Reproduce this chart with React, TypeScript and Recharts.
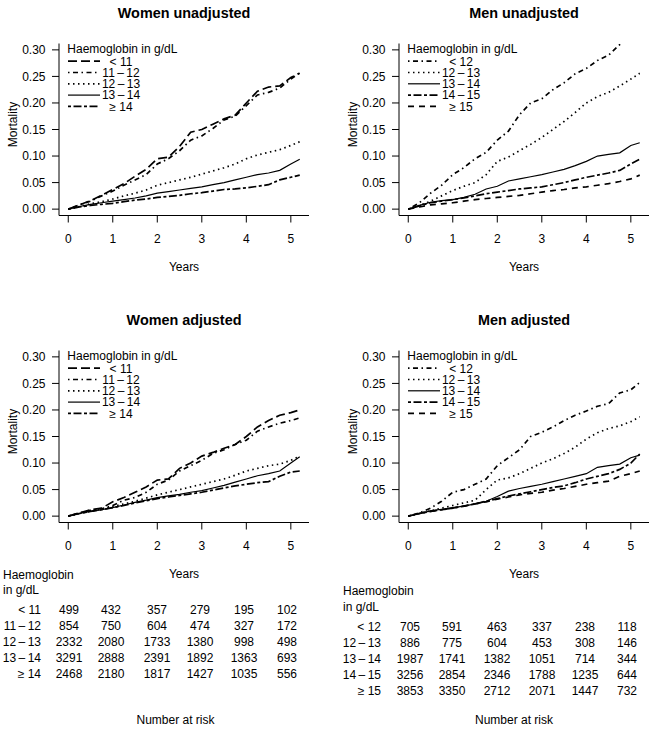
import React from 'react';
import { LineChart, Line, XAxis, YAxis } from 'recharts';

const FONT = '"Liberation Sans", Arial, Helvetica, sans-serif';

// time grid (years)
const years = [0, 0.25, 0.5, 0.75, 1, 1.25, 1.5, 1.75, 2, 2.25, 2.5, 2.75, 3, 3.25, 3.5, 3.75, 4, 4.25, 4.5, 4.75, 5, 5.2];
const xTicks = [0, 1, 2, 3, 4, 5];
const yTicks = [0, 0.05, 0.1, 0.15, 0.2, 0.25, 0.3];

const womenLabels = ['< 11', '11\u2009\u2013\u200912', '12\u2009\u2013\u200913', '13\u2009\u2013\u200914', '\u2265 14'];
const menLabels = ['< 12', '12\u2009\u2013\u200913', '13\u2009\u2013\u200914', '14\u2009\u2013\u200915', '\u2265 15'];

// Women unadjusted
const wuLt11 = [0, .008, .016, .026, .037, .048, .062, .075, .095, .098, .118, .145, .15, .16, .17, .177, .2, .222, .23, .232, .248, .256];
const wu11to12 = [0, .008, .015, .025, .034, .045, .055, .065, .085, .095, .11, .13, .138, .152, .168, .175, .195, .215, .22, .228, .245, .257];
const wu12to13 = [0, .005, .01, .014, .019, .025, .03, .036, .045, .05, .055, .06, .066, .072, .078, .085, .095, .102, .107, .112, .12, .127];
const wu13to14 = [0, .005, .009, .012, .015, .018, .021, .025, .03, .033, .036, .039, .042, .046, .05, .055, .06, .065, .068, .073, .085, .094];
const wuGe14 = [0, .004, .007, .009, .011, .014, .017, .019, .022, .024, .026, .029, .031, .034, .037, .038, .04, .043, .046, .055, .06, .064];

// Men unadjusted
const muLt12 = [0, .012, .03, .045, .065, .078, .095, .107, .13, .147, .178, .2, .208, .225, .238, .255, .265, .28, .29, .31, .33, .345];
const mu12to13 = [0, .007, .015, .025, .035, .043, .05, .065, .09, .098, .11, .122, .135, .15, .165, .182, .2, .212, .22, .232, .245, .256];
const mu13to14 = [0, .007, .013, .016, .018, .022, .028, .038, .043, .053, .057, .061, .065, .07, .075, .082, .09, .1, .103, .106, .12, .125];
const mu14to15 = [0, .006, .012, .015, .018, .021, .025, .029, .032, .035, .038, .04, .042, .046, .05, .055, .06, .064, .068, .073, .085, .094];
const muGe15 = [0, .004, .008, .01, .012, .015, .018, .02, .022, .024, .026, .029, .032, .035, .037, .04, .042, .045, .048, .052, .057, .064];

// Women adjusted
const waLt11 = [0, .006, .012, .015, .027, .035, .045, .055, .068, .07, .09, .1, .113, .12, .128, .135, .15, .168, .18, .19, .195, .2];
const wa11to12 = [0, .006, .011, .014, .02, .03, .035, .045, .06, .068, .085, .095, .105, .118, .125, .135, .143, .16, .168, .175, .18, .185];
const wa12to13 = [0, .005, .009, .013, .018, .023, .028, .034, .04, .045, .05, .055, .06, .065, .07, .077, .085, .09, .095, .098, .105, .113];
const wa13to14 = [0, .005, .009, .012, .016, .021, .026, .03, .035, .038, .041, .045, .048, .053, .058, .064, .07, .076, .08, .085, .1, .112];
const waGe14 = [0, .005, .009, .012, .016, .02, .025, .029, .033, .036, .039, .042, .045, .049, .053, .057, .06, .063, .065, .075, .083, .085];

// Men adjusted
const maLt12 = [0, .006, .015, .028, .045, .05, .06, .07, .095, .11, .125, .15, .158, .168, .18, .19, .198, .207, .212, .232, .238, .252];
const ma12to13 = [0, .005, .01, .015, .02, .025, .03, .05, .068, .072, .08, .09, .1, .108, .118, .13, .145, .157, .165, .17, .178, .187];
const ma13to14 = [0, .005, .01, .013, .016, .019, .023, .028, .037, .047, .052, .056, .06, .065, .07, .075, .08, .092, .095, .098, .11, .115];
const ma14to15 = [0, .005, .009, .012, .015, .019, .023, .028, .033, .038, .042, .046, .05, .054, .057, .063, .07, .075, .08, .088, .1, .117];
const maGe15 = [0, .005, .009, .012, .015, .019, .023, .027, .032, .036, .04, .043, .045, .049, .052, .056, .06, .063, .066, .075, .08, .085];

// Number at risk tables
const riskWomen = [
  [499, 432, 357, 279, 195, 102],
  [854, 750, 604, 474, 327, 172],
  [2332, 2080, 1733, 1380, 998, 498],
  [3291, 2888, 2391, 1892, 1363, 693],
  [2468, 2180, 1817, 1427, 1035, 556],
];
const riskMen = [
  [705, 591, 463, 337, 238, 118],
  [886, 775, 604, 453, 308, 146],
  [1987, 1741, 1382, 1051, 714, 344],
  [3256, 2854, 2346, 1788, 1235, 644],
  [3853, 3350, 2712, 2071, 1447, 732],
];

// line styles
const LONGDASH = '9 4';
const DOTDASH = '1.5 3.5 5 3.5';
const DOTTED = '1.5 3.5';
const SOLID = undefined;
const TWODASH = '3 2.5 8 2.5';
const DASHED = '6 5';

const womenStyles = [LONGDASH, DOTDASH, DOTTED, SOLID, TWODASH];
const menStyles = [DOTDASH, DOTTED, SOLID, TWODASH, DASHED];

type Style = string | undefined;

function buildRows(series: number[][]) {
  return years.map((t, i) => {
    const r: any = { t };
    series.forEach((s, k) => {
      r['s' + k] = s[i];
    });
    return r;
  });
}

const tickStyle = { fill: '#000', fontSize: 12, fontFamily: FONT };

function Panel(props: { left: number; top: number; width: number; right: number; series: number[][]; styles: Style[] }) {
  const rows = buildRows(props.series);
  return (
    <div style={{ position: 'absolute', left: props.left, top: props.top }}>
      <LineChart width={props.width} height={300} data={rows} margin={{ top: 43.5, right: props.right, bottom: 54.5, left: 0 }}>
        <XAxis
          dataKey="t"
          type="number"
          domain={[-0.208, 5.408]}
          ticks={xTicks}
          allowDataOverflow
          interval={0}
          height={30}
          tickSize={7}
          tickMargin={11.5}
          tick={tickStyle}
          axisLine={{ stroke: '#000', strokeWidth: 1 }}
          tickLine={{ stroke: '#000', strokeWidth: 1 }}
        />
        <YAxis
          type="number"
          domain={[-0.012, 0.312]}
          ticks={yTicks}
          allowDataOverflow
          interval={0}
          width={59}
          tickSize={7}
          tickMargin={6.5}
          tickFormatter={(v: number) => v.toFixed(2)}
          tick={tickStyle}
          axisLine={{ stroke: '#000', strokeWidth: 1 }}
          tickLine={{ stroke: '#000', strokeWidth: 1 }}
        />
        {props.series.map((_, k) => (
          <Line
            key={k}
            type="linear"
            dataKey={'s' + k}
            stroke="#000"
            strokeWidth={props.styles[k] ? 1.7 : 1.2}
            strokeDasharray={props.styles[k]}
            dot={false}
            activeDot={false}
            isAnimationActive={false}
          />
        ))}
      </LineChart>
    </div>
  );
}

function Legend(props: { x: number; y: number; labels: string[]; styles: Style[] }) {
  const { x, y } = props;
  return (
    <g>
      <text x={x + 8.3} y={y + 53.3} fontSize={12} fontFamily={FONT} fill="#000">Haemoglobin in g/dL</text>
      {props.labels.map((lab, i) => {
        const cy = y + 61.2 + 11.3 * i;
        return (
          <g key={i}>
            <line x1={x + 9} x2={x + 41} y1={cy} y2={cy} stroke="#000" strokeWidth={props.styles[i] ? 1.7 : 1.2} strokeDasharray={props.styles[i]} />
            <text x={x + 62} y={cy + 4.3} fontSize={12} fontFamily={FONT} fill="#000" textAnchor="middle">{lab}</text>
          </g>
        );
      })}
    </g>
  );
}

function PanelText(props: { px: number; py: number; title: string }) {
  const cx = props.px + 125;
  return (
    <g>
      <text x={cx} y={props.py - 25.2} fontSize={14.4} fontWeight="bold" fontFamily={FONT} textAnchor="middle" fill="#000">{props.title}</text>
      <text x={cx} y={props.py + 227.5} fontSize={12} fontFamily={FONT} textAnchor="middle" fill="#000">Years</text>
      <text x={0} y={0} fontSize={12} fontFamily={FONT} textAnchor="middle" fill="#000" transform={`translate(${props.px - 42.5},${props.py + 81}) rotate(-90)`}>Mortality</text>
    </g>
  );
}

function RiskTable(props: { labels: string[]; data: number[][]; headX: number; headY: number; rowY: number; labelX: number; cols: number[]; footX: number }) {
  return (
    <g fontSize={12} fontFamily={FONT} fill="#000">
      <text x={props.headX} y={props.headY}>Haemoglobin</text>
      <text x={props.headX} y={props.headY + 15.5}>in g/dL</text>
      {props.labels.map((lab, i) => (
        <g key={i}>
          <text x={props.labelX} y={props.rowY + 16 * i} textAnchor="end">{lab}</text>
          {props.data[i].map((v, j) => (
            <text key={j} x={props.cols[j]} y={props.rowY + 16 * i} textAnchor="middle">{v}</text>
          ))}
        </g>
      ))}
      <text x={props.footX} y={723.5} textAnchor="middle">Number at risk</text>
    </g>
  );
}

export default function App() {
  const L = 59;
  const R = 399;
  const T = 43.5;
  const B = 350.5;
  return (
    <div style={{ position: 'absolute', left: 0, top: 0, width: 656, height: 731, overflow: 'hidden', background: '#fff' }}>
      <Panel left={0} top={0} width={330} right={21} series={[wuLt11, wu11to12, wu12to13, wu13to14, wuGe14]} styles={womenStyles} />
      <Panel left={340} top={0} width={316} right={7} series={[muLt12, mu12to13, mu13to14, mu14to15, muGe15]} styles={menStyles} />
      <Panel left={0} top={307} width={330} right={21} series={[waLt11, wa11to12, wa12to13, wa13to14, waGe14]} styles={womenStyles} />
      <Panel left={340} top={307} width={316} right={7} series={[maLt12, ma12to13, ma13to14, ma14to15, maGe15]} styles={menStyles} />
      <svg width={656} height={731} style={{ position: 'absolute', left: 0, top: 0, pointerEvents: 'none' }}>
        <PanelText px={L} py={T} title="Women unadjusted" />
        <PanelText px={R} py={T} title="Men unadjusted" />
        <PanelText px={L} py={B} title="Women adjusted" />
        <PanelText px={R} py={B} title="Men adjusted" />
        <Legend x={L} y={0} labels={womenLabels} styles={womenStyles} />
        <Legend x={R} y={0} labels={menLabels} styles={menStyles} />
        <Legend x={L} y={307} labels={womenLabels} styles={womenStyles} />
        <Legend x={R} y={307} labels={menLabels} styles={menStyles} />
        <RiskTable labels={womenLabels} data={riskWomen} headX={3} headY={578.5} rowY={614} labelX={41} cols={[69, 111, 157, 200, 244, 287]} footX={175.5} />
        <RiskTable labels={menLabels} data={riskMen} headX={343} headY={595.3} rowY={631} labelX={381} cols={[410, 452, 497, 542, 585, 627]} footX={514} />
      </svg>
    </div>
  );
}
